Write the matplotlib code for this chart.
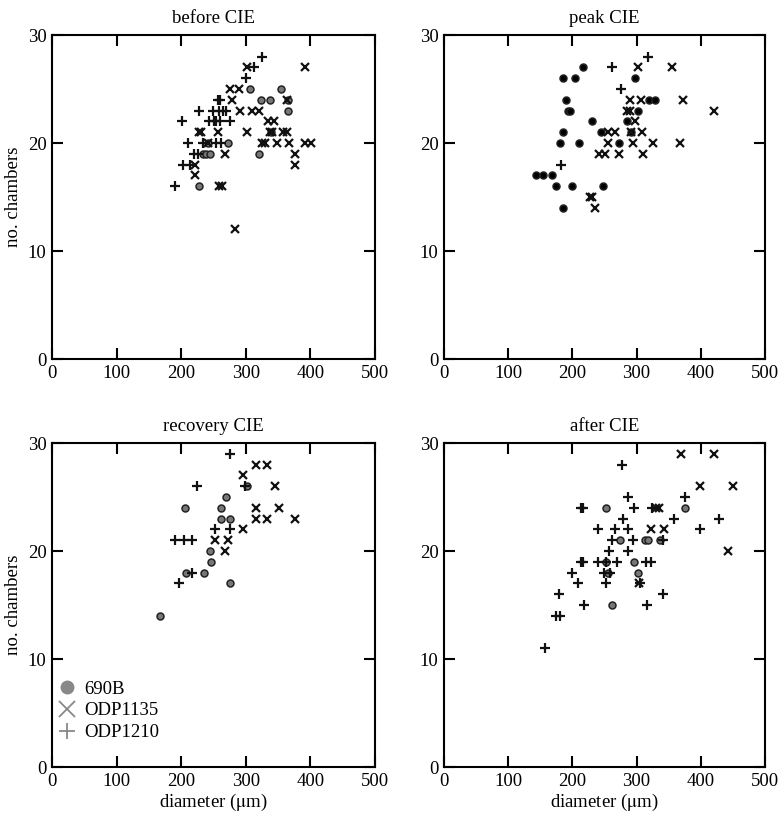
import matplotlib
matplotlib.use("Agg")
import matplotlib.pyplot as plt
from matplotlib.lines import Line2D

plt.rcParams['font.family'] = ['Liberation Serif', 'DejaVu Serif']
plt.rcParams['font.size'] = 13.5
plt.rcParams['mathtext.fontset'] = 'stix'

titles = ["before CIE", "peak CIE", "recovery CIE", "after CIE"]

# before CIE
b_690_x = [306, 354, 324, 337, 366, 365, 339, 272, 241, 233, 239, 244, 320, 228]
b_690_y = [25, 25, 24, 24, 24, 23, 21, 20, 20, 19, 19, 19, 19, 16]
b_1135_x = [302, 391, 276, 289, 279, 363, 291, 310, 321, 335, 343, 228, 231, 257, 302, 337, 341,
            357, 363, 241, 325, 329, 349, 367, 391, 401, 268, 376, 222, 376, 222, 258, 263, 284]
b_1135_y = [27, 27, 25, 25, 24, 24, 23, 23, 23, 22, 22, 21, 21, 21, 21, 21, 21,
            21, 21, 20, 20, 20, 20, 20, 20, 20, 19, 19, 18, 18, 17, 16, 16, 12]
b_1210_x = [325, 313, 300, 257, 260, 228, 249, 259, 264, 270, 201, 243, 250, 254, 260, 275,
            211, 234, 254, 262, 220, 226, 202, 213, 191]
b_1210_y = [28, 27, 26, 24, 24, 23, 23, 23, 23, 23, 22, 22, 22, 22, 22, 22,
            20, 20, 20, 20, 19, 19, 18, 18, 16]

# peak CIE
p_690_x = [217, 185, 204, 298, 190, 320, 329, 193, 196, 302, 231, 285, 186, 244, 292,
           181, 211, 272, 143, 154, 168, 175, 199, 247, 186]
p_690_y = [27, 26, 26, 26, 24, 24, 24, 23, 23, 23, 22, 22, 21, 21, 21,
           20, 20, 20, 17, 17, 17, 16, 16, 16, 14]
p_1135_x = [302, 355, 290, 307, 372, 285, 289, 421, 297, 256, 266, 292, 309,
            256, 295, 326, 368, 242, 251, 273, 310, 227, 231, 235]
p_1135_y = [27, 27, 24, 24, 24, 23, 23, 23, 22, 21, 21, 21, 21,
            20, 20, 20, 20, 19, 19, 19, 19, 15, 15, 14]
p_1210_x = [317, 261, 276, 182]
p_1210_y = [28, 27, 25, 18]

# recovery CIE
r_690_x = [302, 270, 206, 262, 261, 275, 245, 246, 207, 236, 276, 167]
r_690_y = [26, 25, 24, 24, 23, 23, 20, 19, 18, 18, 17, 14]
r_1135_x = [315, 333, 296, 345, 315, 351, 315, 333, 376, 296, 253, 273, 268]
r_1135_y = [28, 28, 27, 26, 24, 24, 23, 23, 23, 22, 21, 21, 20]
r_1210_x = [276, 225, 299, 252, 275, 191, 204, 217, 217, 196]
r_1210_y = [29, 26, 26, 22, 22, 21, 21, 21, 18, 17]

# after CIE
a_690_x = [252, 376, 274, 313, 318, 337, 253, 296, 256, 302, 261]
a_690_y = [24, 24, 21, 21, 21, 21, 19, 19, 18, 18, 15]
a_1135_x = [369, 420, 399, 450, 330, 335, 322, 343, 442, 304]
a_1135_y = [29, 29, 26, 26, 24, 24, 22, 22, 20, 17]
a_1210_x = [278, 287, 376, 213, 217, 296, 324, 279, 358, 429, 240, 266, 287, 398,
            261, 295, 341, 257, 287, 214, 216, 240, 253, 270, 314, 322,
            199, 250, 258, 209, 253, 306, 179, 341, 218, 316, 174, 180, 158]
a_1210_y = [28, 25, 25, 24, 24, 24, 24, 23, 23, 23, 22, 22, 22, 22,
            21, 21, 21, 20, 20, 19, 19, 19, 19, 19, 19, 19,
            18, 18, 18, 17, 17, 17, 16, 16, 15, 15, 14, 14, 11]

panels = [
    (b_690_x, b_690_y, b_1135_x, b_1135_y, b_1210_x, b_1210_y),
    (p_690_x, p_690_y, p_1135_x, p_1135_y, p_1210_x, p_1210_y),
    (r_690_x, r_690_y, r_1135_x, r_1135_y, r_1210_x, r_1210_y),
    (a_690_x, a_690_y, a_1135_x, a_1135_y, a_1210_x, a_1210_y),
]
circle_fill = ['#777777', 'black', '#777777', '#777777']

fig = plt.figure(figsize=(7.81, 8.16), dpi=100)
rects = [
    [0.0666, 0.560, 0.4136, 0.397],
    [0.5685, 0.560, 0.411, 0.397],
    [0.0666, 0.060, 0.4136, 0.397],
    [0.5685, 0.060, 0.411, 0.397],
]

for i in range(4):
    ax = fig.add_axes(rects[i])
    x1, y1, x2, y2, x3, y3 = panels[i]
    ax.plot(x1, y1, 'o', ms=5, mfc=circle_fill[i], mec='#222222', mew=1.1, ls='none')
    ax.plot(x2, y2, 'x', ms=6, color='#111111', mew=1.6, ls='none')
    ax.plot(x3, y3, '+', ms=7, color='#111111', mew=1.6, ls='none')
    ax.set_xlim(0, 500)
    ax.set_ylim(0, 30)
    ax.set_xticks([0, 100, 200, 300, 400, 500])
    ax.set_yticks([0, 10, 20, 30])
    ax.tick_params(direction='in', length=8, width=1.5, top=True, right=True, pad=4)
    for s in ax.spines.values():
        s.set_linewidth(1.5)
    ax.set_title(titles[i], fontsize=13.5, pad=9)
    if i % 2 == 0:
        ax.set_ylabel('no. chambers', labelpad=4)
    if i >= 2:
        ax.set_xlabel('diameter ($\\mathrm{\\mu}$m)', labelpad=2)
    if i == 2:
        handles = [
            Line2D([], [], marker='o', ls='none', ms=9, color='#888888'),
            Line2D([], [], marker='x', ls='none', ms=11, color='#888888', mew=1.3),
            Line2D([], [], marker='+', ls='none', ms=12, color='#888888', mew=1.3),
        ]
        ax.legend(handles, ['690B', 'ODP1135', 'ODP1210'], loc='lower left', frameon=False,
                  bbox_to_anchor=(-0.025, 0.045), handletextpad=0.25, borderaxespad=0.2,
                  labelspacing=0.25, handlelength=1.3, fontsize=13.5)

fig.savefig('out.png', dpi=100)
